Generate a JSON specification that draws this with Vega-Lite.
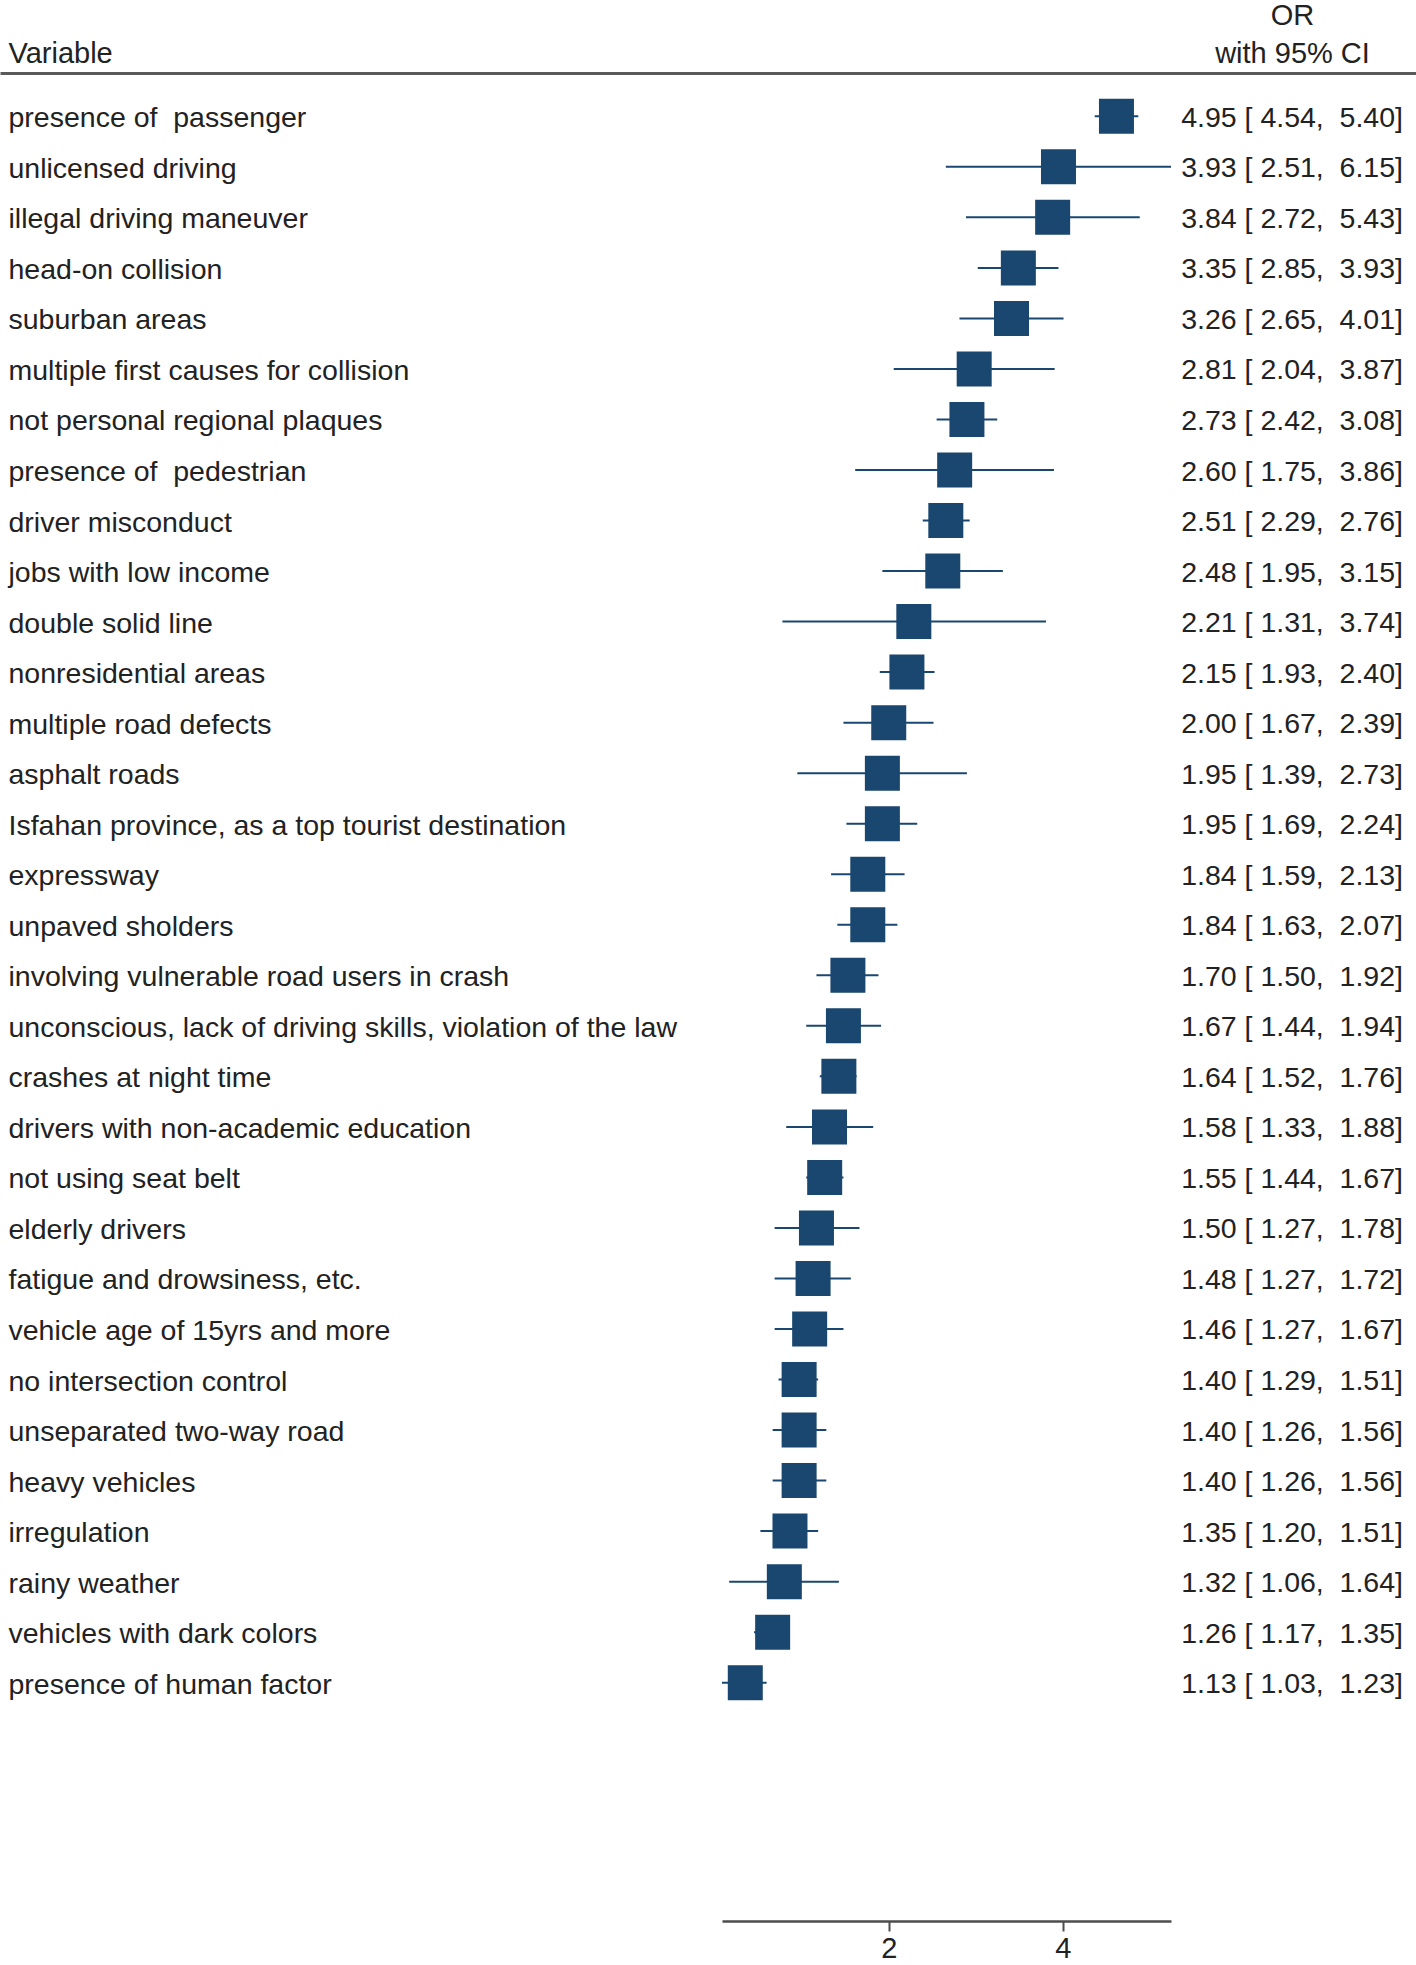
{
  "$schema": "https://vega.github.io/schema/vega-lite/v6.json",
  "width": 1416,
  "height": 1848,
  "padding": {"left": 0, "top": 1, "right": 0, "bottom": 0},
  "background": "white",
  "config": {
    "view": {"stroke": null},
    "font": "Liberation Sans",
    "axis": {"grid": false}
  },
  "data": {
    "values": [
      {"variable": "presence of\u00a0 passenger", "or": 4.95, "lo": 4.54, "hi": 5.40, "ci": "4.95 [ 4.54,\u00a0 5.40]"},
      {"variable": "unlicensed driving", "or": 3.93, "lo": 2.51, "hi": 6.15, "ci": "3.93 [ 2.51,\u00a0 6.15]"},
      {"variable": "illegal driving maneuver", "or": 3.84, "lo": 2.72, "hi": 5.43, "ci": "3.84 [ 2.72,\u00a0 5.43]"},
      {"variable": "head-on collision", "or": 3.35, "lo": 2.85, "hi": 3.93, "ci": "3.35 [ 2.85,\u00a0 3.93]"},
      {"variable": "suburban areas", "or": 3.26, "lo": 2.65, "hi": 4.01, "ci": "3.26 [ 2.65,\u00a0 4.01]"},
      {"variable": "multiple first causes for collision", "or": 2.81, "lo": 2.04, "hi": 3.87, "ci": "2.81 [ 2.04,\u00a0 3.87]"},
      {"variable": "not personal regional plaques", "or": 2.73, "lo": 2.42, "hi": 3.08, "ci": "2.73 [ 2.42,\u00a0 3.08]"},
      {"variable": "presence of\u00a0 pedestrian", "or": 2.60, "lo": 1.75, "hi": 3.86, "ci": "2.60 [ 1.75,\u00a0 3.86]"},
      {"variable": "driver misconduct", "or": 2.51, "lo": 2.29, "hi": 2.76, "ci": "2.51 [ 2.29,\u00a0 2.76]"},
      {"variable": "jobs with low income", "or": 2.48, "lo": 1.95, "hi": 3.15, "ci": "2.48 [ 1.95,\u00a0 3.15]"},
      {"variable": "double solid line", "or": 2.21, "lo": 1.31, "hi": 3.74, "ci": "2.21 [ 1.31,\u00a0 3.74]"},
      {"variable": "nonresidential areas", "or": 2.15, "lo": 1.93, "hi": 2.40, "ci": "2.15 [ 1.93,\u00a0 2.40]"},
      {"variable": "multiple road defects", "or": 2.00, "lo": 1.67, "hi": 2.39, "ci": "2.00 [ 1.67,\u00a0 2.39]"},
      {"variable": "asphalt roads", "or": 1.95, "lo": 1.39, "hi": 2.73, "ci": "1.95 [ 1.39,\u00a0 2.73]"},
      {"variable": "Isfahan province, as a top tourist destination", "or": 1.95, "lo": 1.69, "hi": 2.24, "ci": "1.95 [ 1.69,\u00a0 2.24]"},
      {"variable": "expressway", "or": 1.84, "lo": 1.59, "hi": 2.13, "ci": "1.84 [ 1.59,\u00a0 2.13]"},
      {"variable": "unpaved sholders", "or": 1.84, "lo": 1.63, "hi": 2.07, "ci": "1.84 [ 1.63,\u00a0 2.07]"},
      {"variable": "involving vulnerable road users in crash", "or": 1.70, "lo": 1.50, "hi": 1.92, "ci": "1.70 [ 1.50,\u00a0 1.92]"},
      {"variable": "unconscious, lack of driving skills, violation of the law", "or": 1.67, "lo": 1.44, "hi": 1.94, "ci": "1.67 [ 1.44,\u00a0 1.94]"},
      {"variable": "crashes at night time", "or": 1.64, "lo": 1.52, "hi": 1.76, "ci": "1.64 [ 1.52,\u00a0 1.76]"},
      {"variable": "drivers with non-academic education", "or": 1.58, "lo": 1.33, "hi": 1.88, "ci": "1.58 [ 1.33,\u00a0 1.88]"},
      {"variable": "not using seat belt", "or": 1.55, "lo": 1.44, "hi": 1.67, "ci": "1.55 [ 1.44,\u00a0 1.67]"},
      {"variable": "elderly drivers", "or": 1.50, "lo": 1.27, "hi": 1.78, "ci": "1.50 [ 1.27,\u00a0 1.78]"},
      {"variable": "fatigue and drowsiness, etc.", "or": 1.48, "lo": 1.27, "hi": 1.72, "ci": "1.48 [ 1.27,\u00a0 1.72]"},
      {"variable": "vehicle age of 15yrs and more", "or": 1.46, "lo": 1.27, "hi": 1.67, "ci": "1.46 [ 1.27,\u00a0 1.67]"},
      {"variable": "no intersection control", "or": 1.40, "lo": 1.29, "hi": 1.51, "ci": "1.40 [ 1.29,\u00a0 1.51]"},
      {"variable": "unseparated two-way road", "or": 1.40, "lo": 1.26, "hi": 1.56, "ci": "1.40 [ 1.26,\u00a0 1.56]"},
      {"variable": "heavy vehicles", "or": 1.40, "lo": 1.26, "hi": 1.56, "ci": "1.40 [ 1.26,\u00a0 1.56]"},
      {"variable": "irregulation", "or": 1.35, "lo": 1.20, "hi": 1.51, "ci": "1.35 [ 1.20,\u00a0 1.51]"},
      {"variable": "rainy weather", "or": 1.32, "lo": 1.06, "hi": 1.64, "ci": "1.32 [ 1.06,\u00a0 1.64]"},
      {"variable": "vehicles with dark colors", "or": 1.26, "lo": 1.17, "hi": 1.35, "ci": "1.26 [ 1.17,\u00a0 1.35]"},
      {"variable": "presence of human factor", "or": 1.13, "lo": 1.03, "hi": 1.23, "ci": "1.13 [ 1.03,\u00a0 1.23]"}
    ]
  },
  "encoding": {
    "y": {
      "field": "variable",
      "type": "nominal",
      "sort": null,
      "scale": {"type": "point", "padding": 0, "range": [43.3, 1609.7]},
      "axis": {
        "orient": "left",
        "domain": false,
        "ticks": false,
        "tickSize": 0,
        "labelAlign": "left",
        "labelBaseline": "alphabetic",
        "labelOffset": 10.5,
        "labelPadding": -8,
        "labelFontSize": 28.5,
        "labelColor": "#222222",
        "labelLimit": 2000,
        "labelOverlap": false,
        "title": "Variable",
        "titleAngle": 0,
        "titleAlign": "left",
        "titleBaseline": "alphabetic",
        "titleX": 8,
        "titleY": -10.5,
        "titleFontSize": 29,
        "titleFontWeight": "normal",
        "titleColor": "#222222"
      }
    }
  },
  "layer": [
    {
      "layer": [
        {
          "mark": {"type": "rule", "color": "#1a476f", "strokeWidth": 2},
          "encoding": {
            "x": {
              "field": "lo",
              "type": "quantitative",
              "scale": {"type": "log", "base": 2, "domain": [1.03, 6.15], "range": [722, 1171], "nice": false, "zero": false},
              "axis": {
                "orient": "bottom",
                "title": null,
                "values": [2, 4],
                "format": "d",
                "domainColor": "#4d4d4d",
                "domainWidth": 2.5,
                "tickColor": "#4d4d4d",
                "tickWidth": 2,
                "tickSize": 10,
                "labelFontSize": 29,
                "labelColor": "#222222",
                "labelPadding": 3
              }
            },
            "x2": {"field": "hi"}
          }
        },
        {
          "mark": {"type": "point", "shape": "square", "filled": true, "size": 1089, "color": "#1a476f", "stroke": "#1a476f", "strokeWidth": 2, "opacity": 1},
          "encoding": {
            "x": {"field": "or", "type": "quantitative"}
          }
        }
      ]
    },
    {
      "mark": {"type": "text", "align": "right", "baseline": "alphabetic", "dx": -13, "dy": 10.5, "fontSize": 28.5, "color": "#222222"},
      "encoding": {
        "x": {
          "datum": 1,
          "type": "quantitative",
          "scale": {"domain": [0, 1], "nice": false, "zero": false},
          "axis": {
            "orient": "top",
            "labels": false,
            "ticks": false,
            "grid": false,
            "domain": true,
            "domainColor": "#5a5a5a",
            "domainWidth": 3,
            "title": ["OR", "with 95% CI"],
            "titleX": 1292,
            "titleY": -48.5,
            "titleAlign": "center",
            "titleAnchor": null,
            "titleBaseline": "alphabetic",
            "titleLineHeight": 38.4,
            "titleFontSize": 29,
            "titleFontWeight": "normal",
            "titleColor": "#222222"
          }
        },
        "text": {"field": "ci"}
      }
    }
  ],
  "resolve": {"scale": {"x": "independent"}}
}
